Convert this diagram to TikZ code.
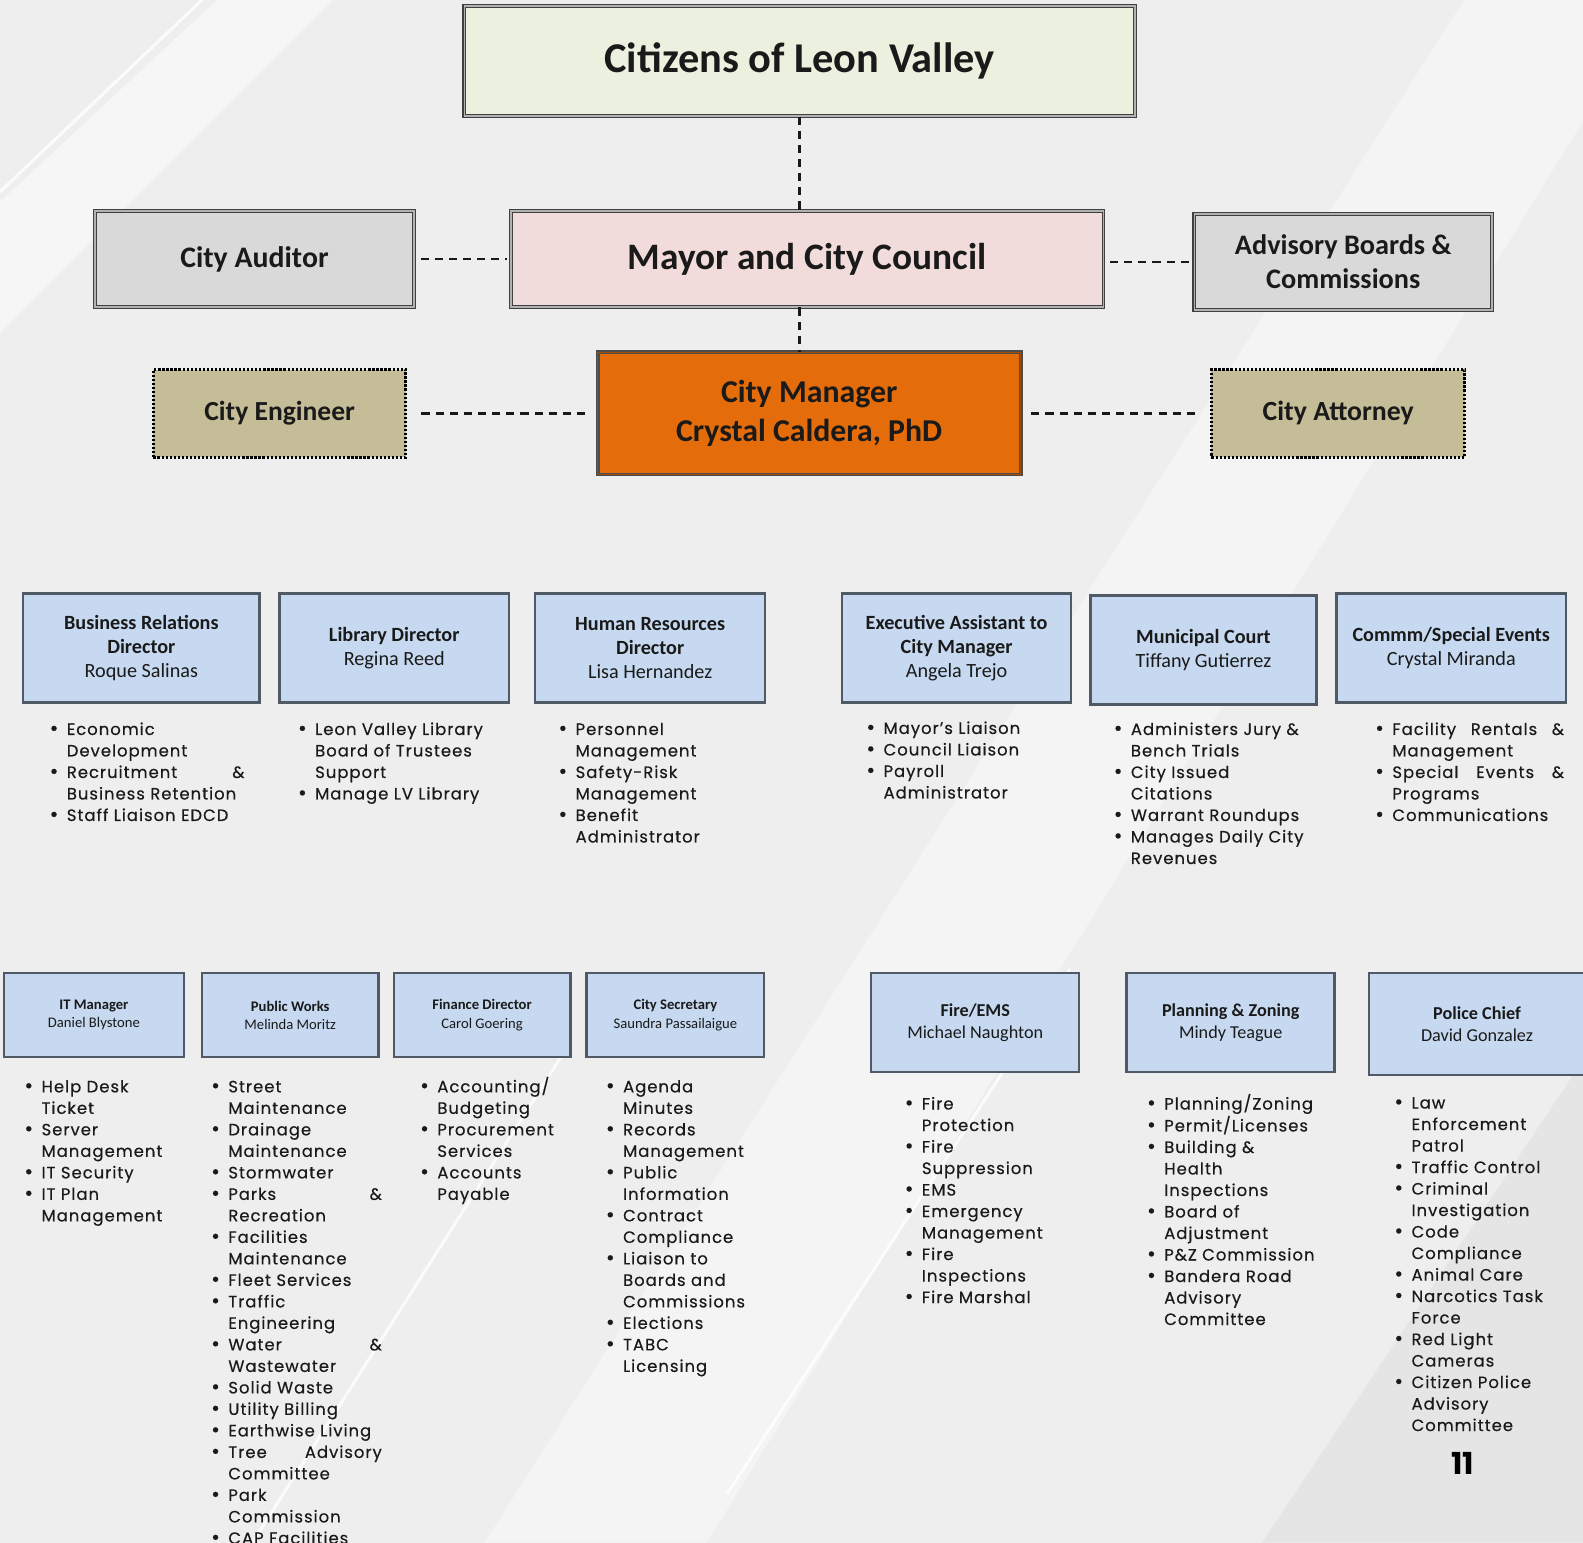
\documentclass[tikz,border=0pt]{standalone}
\usepackage{fontspec}
\setmainfont{Carlito}
\newfontfamily\listfont[LetterSpace=6,FakeBold=0.35]{Poppins}
\newfontfamily\pgfont{Poppins}
\usetikzlibrary{calc}
\definecolor{bgc}{HTML}{EEEEEE}
\definecolor{citz}{HTML}{EBF1DE}
\definecolor{mayor}{HTML}{F2DCDB}
\definecolor{greyb}{HTML}{D9D9D9}
\definecolor{cmgr}{HTML}{E46C0A}
\definecolor{tan}{HTML}{C4BD97}
\definecolor{blueb}{HTML}{C6D9F1}
\definecolor{blueline}{HTML}{505A64}
\definecolor{txt}{HTML}{1A1A1A}
\newcommand\Bul{\makebox[17pt][l]{\raisebox{-0.5pt}{\fontsize{21}{21}\selectfont\textbullet}}}
\newcommand\JL[2]{\makebox[#1pt][s]{#2}}
\tikzset{
  topbox/.style={draw=black!75, double=black!30, double distance=1.6pt, line width=1.1pt, text=txt, align=center, inner sep=0pt},
  dotbox/.style={draw=black, line width=3pt, dash pattern=on 2.2pt off 1.8pt, fill=tan, text=txt, align=center, inner sep=0pt},
  deptbox/.style={draw=blueline, line width=2.4pt, fill=blueb, text=txt, align=center, inner sep=0pt},
  conn/.style={draw=black!90, line width=2.4pt, dash pattern=on 8pt off 6pt},
  blist/.style={anchor=base west, inner sep=0pt, text=txt, font=\listfont\fontsize{16.3}{21.3}\selectfont},
}
\begin{document}
\begin{tikzpicture}[x=1pt,y=-1pt]
\useasboundingbox (0,0) rectangle (1568,1528);
% background
\fill[bgc] (0,0) rectangle (1568,1528);
\fill[white,opacity=0.5] (0,200) -- (215,0) -- (330,0) -- (0,330) -- cycle;
\fill[white,opacity=0.4] (480,1528) -- (1450,0) -- (1568,0) -- (1568,120) -- (700,1528) -- cycle;
\fill[black,opacity=0.035] (1250,1528) -- (1568,1050) -- (1568,1528) -- cycle;
\draw[white,line width=3pt,opacity=0.8] (0,190) -- (200,0);
\draw[white,line width=3pt,opacity=0.8] (250,1528) -- (560,1040);
\draw[white,line width=3pt,opacity=0.8] (720,1480) -- (1060,960);

% top boxes
\node[topbox, fill=citz, minimum width=664pt, minimum height=109pt, font=\bfseries\fontsize{42}{46}\selectfont] (citz) at (792,60.5) {Citizens of Leon Valley};
\node[topbox, fill=mayor, minimum width=587pt, minimum height=95pt, font=\bfseries\fontsize{37}{42}\selectfont] (mayor) at (799.5,256.5) {Mayor and City Council};
\node[topbox, fill=greyb, minimum width=316pt, minimum height=95pt, font=\bfseries\fontsize{29.5}{34}\selectfont] (aud) at (252,256.5) {City Auditor};
\node[topbox, fill=greyb, minimum width=295pt, minimum height=95pt, font=\bfseries\fontsize{28}{34}\selectfont] (adv) at (1330.5,259.5) {Advisory Boards \&\\Commissions};
\node[topbox, draw=black!70, double=cmgr!70!black, fill=cmgr, minimum width=419pt, minimum height=121pt, font=\bfseries\fontsize{31.5}{38}\selectfont] (cm) at (801.5,409.5) {City Manager\\Crystal Caldera, PhD};
\node[dotbox, minimum width=250pt, minimum height=87pt, font=\bfseries\fontsize{27.3}{32}\selectfont] (eng) at (277,409.5) {City Engineer};
\node[dotbox, minimum width=251pt, minimum height=87pt, font=\bfseries\fontsize{27.5}{32}\selectfont] (att) at (1325.5,409.5) {City Attorney};

% connectors
\draw[conn] (citz.south) -- (citz.south |- mayor.north);
\draw[conn] (citz.south |- mayor.south) -- (citz.south |- cm.north);
\draw[conn, shorten <=6pt, shorten >=3pt] (aud.east) -- (aud.east -| mayor.west);
\draw[conn, shorten <=6pt] (mayor.east |- adv.west) -- (adv.west);
\draw[conn, shorten <=14pt, shorten >=11pt] (eng.east) -- (cm.west);
\draw[conn, shorten <=10pt, shorten >=13pt] (cm.east) -- (att.west);

% row 2 departments
\begin{scope}[every node/.append style={font=\fontsize{20}{24}\selectfont}]
\node[deptbox, minimum width=234pt, minimum height=108pt] (br) at (140,642) {\textbf{Business Relations}\\\textbf{Director}\\Roque Salinas};
\node[deptbox, minimum width=227pt, minimum height=108pt] (lib) at (390.5,642) {\textbf{Library Director}\\Regina Reed};
\node[deptbox, minimum width=228pt, minimum height=108pt] (hr) at (644,642) {\textbf{Human Resources}\\\textbf{Director}\\Lisa Hernandez};
\node[deptbox, minimum width=227pt, minimum height=108pt] (ea) at (947.5,642) {\textbf{Executive Assistant to}\\\textbf{City Manager}\\Angela Trejo};
\node[deptbox, minimum width=224pt, minimum height=108pt] (court) at (1192,644) {\textbf{Municipal Court}\\Tiffany Gutierrez};
\node[deptbox, minimum width=227pt, minimum height=108pt] (comm) at (1437.5,642) {\textbf{Commm/Special Events}\\Crystal Miranda};
\end{scope}

% row 3 departments
\begin{scope}[every node/.append style={font=\fontsize{14.5}{18}\selectfont}]
\node[deptbox, minimum width=178pt, minimum height=83pt] (it) at (93,1005.5) {\textbf{IT Manager}\\Daniel Blystone};
\node[deptbox, minimum width=175pt, minimum height=83pt] (pw) at (287.5,1005.5) {\textbf{Public Works}\\Melinda Moritz};
\node[deptbox, minimum width=175pt, minimum height=83pt] (fin) at (477.5,1005.5) {\textbf{Finance Director}\\Carol Goering};
\node[deptbox, minimum width=176pt, minimum height=83pt] (sec) at (669,1005.5) {\textbf{City Secretary}\\Saundra Passailaigue};
\end{scope}
\begin{scope}[every node/.append style={font=\fontsize{18}{22}\selectfont}]
\node[deptbox, minimum width=206pt, minimum height=98pt] (fire) at (966,1013) {\textbf{Fire/EMS}\\Michael Naughton};
\node[deptbox, minimum width=206pt, minimum height=98pt] (plan) at (1219,1013) {\textbf{Planning \& Zoning}\\Mindy Teague};
\node[deptbox, minimum width=214pt, minimum height=101pt] (pol) at (1463,1014.5) {\textbf{Police Chief}\\David Gonzalez};
\end{scope}

% row 2 lists
\node[blist] (lbr) at (49,728) {\begin{tabular}[t]{@{}l@{}l@{}}
\Bul & Economic\\ & Development\\ \Bul & \JL{176}{Recruitment \&}\\ & Business Retention\\ \Bul & Staff Liaison EDCD\end{tabular}};
\node[blist] (llib) at (295,728) {\begin{tabular}[t]{@{}l@{}l@{}}
\Bul & Leon Valley Library\\ & Board of Trustees\\ & Support\\ \Bul & Manage LV Library\end{tabular}};
\node[blist] (lhr) at (553,728) {\begin{tabular}[t]{@{}l@{}l@{}}
\Bul & Personnel\\ & Management\\ \Bul & Safety-Risk\\ & Management\\ \Bul & Benefit\\ & Administrator\end{tabular}};
\node[blist] (lea) at (858,727) {\begin{tabular}[t]{@{}l@{}l@{}}
\Bul & Mayor’s Liaison\\ \Bul & Council Liaison\\ \Bul & Payroll\\ & Administrator\end{tabular}};
\node[blist] (lcourt) at (1103,728) {\begin{tabular}[t]{@{}l@{}l@{}}
\Bul & Administers Jury \&\\ & Bench Trials\\ \Bul & City Issued\\ & Citations\\ \Bul & Warrant Roundups\\ \Bul & Manages Daily City\\ & Revenues\end{tabular}};
\node[blist] (lcomm) at (1362,728) {\begin{tabular}[t]{@{}l@{}l@{}}
\Bul & \JL{170}{Facility Rentals \&}\\ & Management\\ \Bul & \JL{170}{Special Events \&}\\ & Programs\\ \Bul & Communications\end{tabular}};

% row 3 lists
\node[blist] (lit) at (24,1082) {\begin{tabular}[t]{@{}l@{}l@{}}
\Bul & Help Desk\\ & Ticket\\ \Bul & Server\\ & Management\\ \Bul & IT Security\\ \Bul & IT Plan\\ & Management\end{tabular}};
\node[blist] (lpw) at (209,1082) {\begin{tabular}[t]{@{}l@{}l@{}}
\Bul & Street\\ & Maintenance\\ \Bul & Drainage\\ & Maintenance\\ \Bul & Stormwater\\ \Bul & \JL{152}{Parks \&}\\ & Recreation\\ \Bul & Facilities\\ & Maintenance\\ \Bul & Fleet Services\\ \Bul & Traffic\\ & Engineering\\ \Bul & \JL{152}{Water \&}\\ & Wastewater\\ \Bul & Solid Waste\\ \Bul & Utility Billing\\ \Bul & Earthwise Living\\ \Bul & \JL{152}{Tree Advisory}\\ & Committee\\ \Bul & Park\\ & Commission\\ \Bul & CAP Facilities\end{tabular}};
\node[blist] (lfin) at (416,1082) {\begin{tabular}[t]{@{}l@{}l@{}}
\Bul & Accounting/\\ & Budgeting\\ \Bul & Procurement\\ & Services\\ \Bul & Accounts\\ & Payable\end{tabular}};
\node[blist] (lsec) at (600,1082) {\begin{tabular}[t]{@{}l@{}l@{}}
\Bul & Agenda\\ & Minutes\\ \Bul & Records\\ & Management\\ \Bul & Public\\ & Information\\ \Bul & Contract\\ & Compliance\\ \Bul & Liaison to\\ & Boards and\\ & Commissions\\ \Bul & Elections\\ \Bul & TABC\\ & Licensing\end{tabular}};
\node[blist] (lfire) at (896,1099) {\begin{tabular}[t]{@{}l@{}l@{}}
\Bul & Fire\\ & Protection\\ \Bul & Fire\\ & Suppression\\ \Bul & EMS\\ \Bul & Emergency\\ & Management\\ \Bul & Fire\\ & Inspections\\ \Bul & Fire Marshal\end{tabular}};
\node[blist] (lplan) at (1136,1099) {\begin{tabular}[t]{@{}l@{}l@{}}
\Bul & Planning/Zoning\\ \Bul & Permit/Licenses\\ \Bul & Building \&\\ & Health\\ & Inspections\\ \Bul & Board of\\ & Adjustment\\ \Bul & P\&Z Commission\\ \Bul & Bandera Road\\ & Advisory\\ & Committee\end{tabular}};
\node[blist] (lpol) at (1381,1098) {\begin{tabular}[t]{@{}l@{}l@{}}
\Bul & Law\\ & Enforcement\\ & Patrol\\ \Bul & Traffic Control\\ \Bul & Criminal\\ & Investigation\\ \Bul & Code\\ & Compliance\\ \Bul & Animal Care\\ \Bul & Narcotics Task\\ & Force\\ \Bul & Red Light\\ & Cameras\\ \Bul & Citizen Police\\ & Advisory\\ & Committee\end{tabular}};

\node[text=black, font=\pgfont\bfseries\fontsize{30}{34}\selectfont] (pg) at (1449,1450) {11};
\end{tikzpicture}
\end{document}
